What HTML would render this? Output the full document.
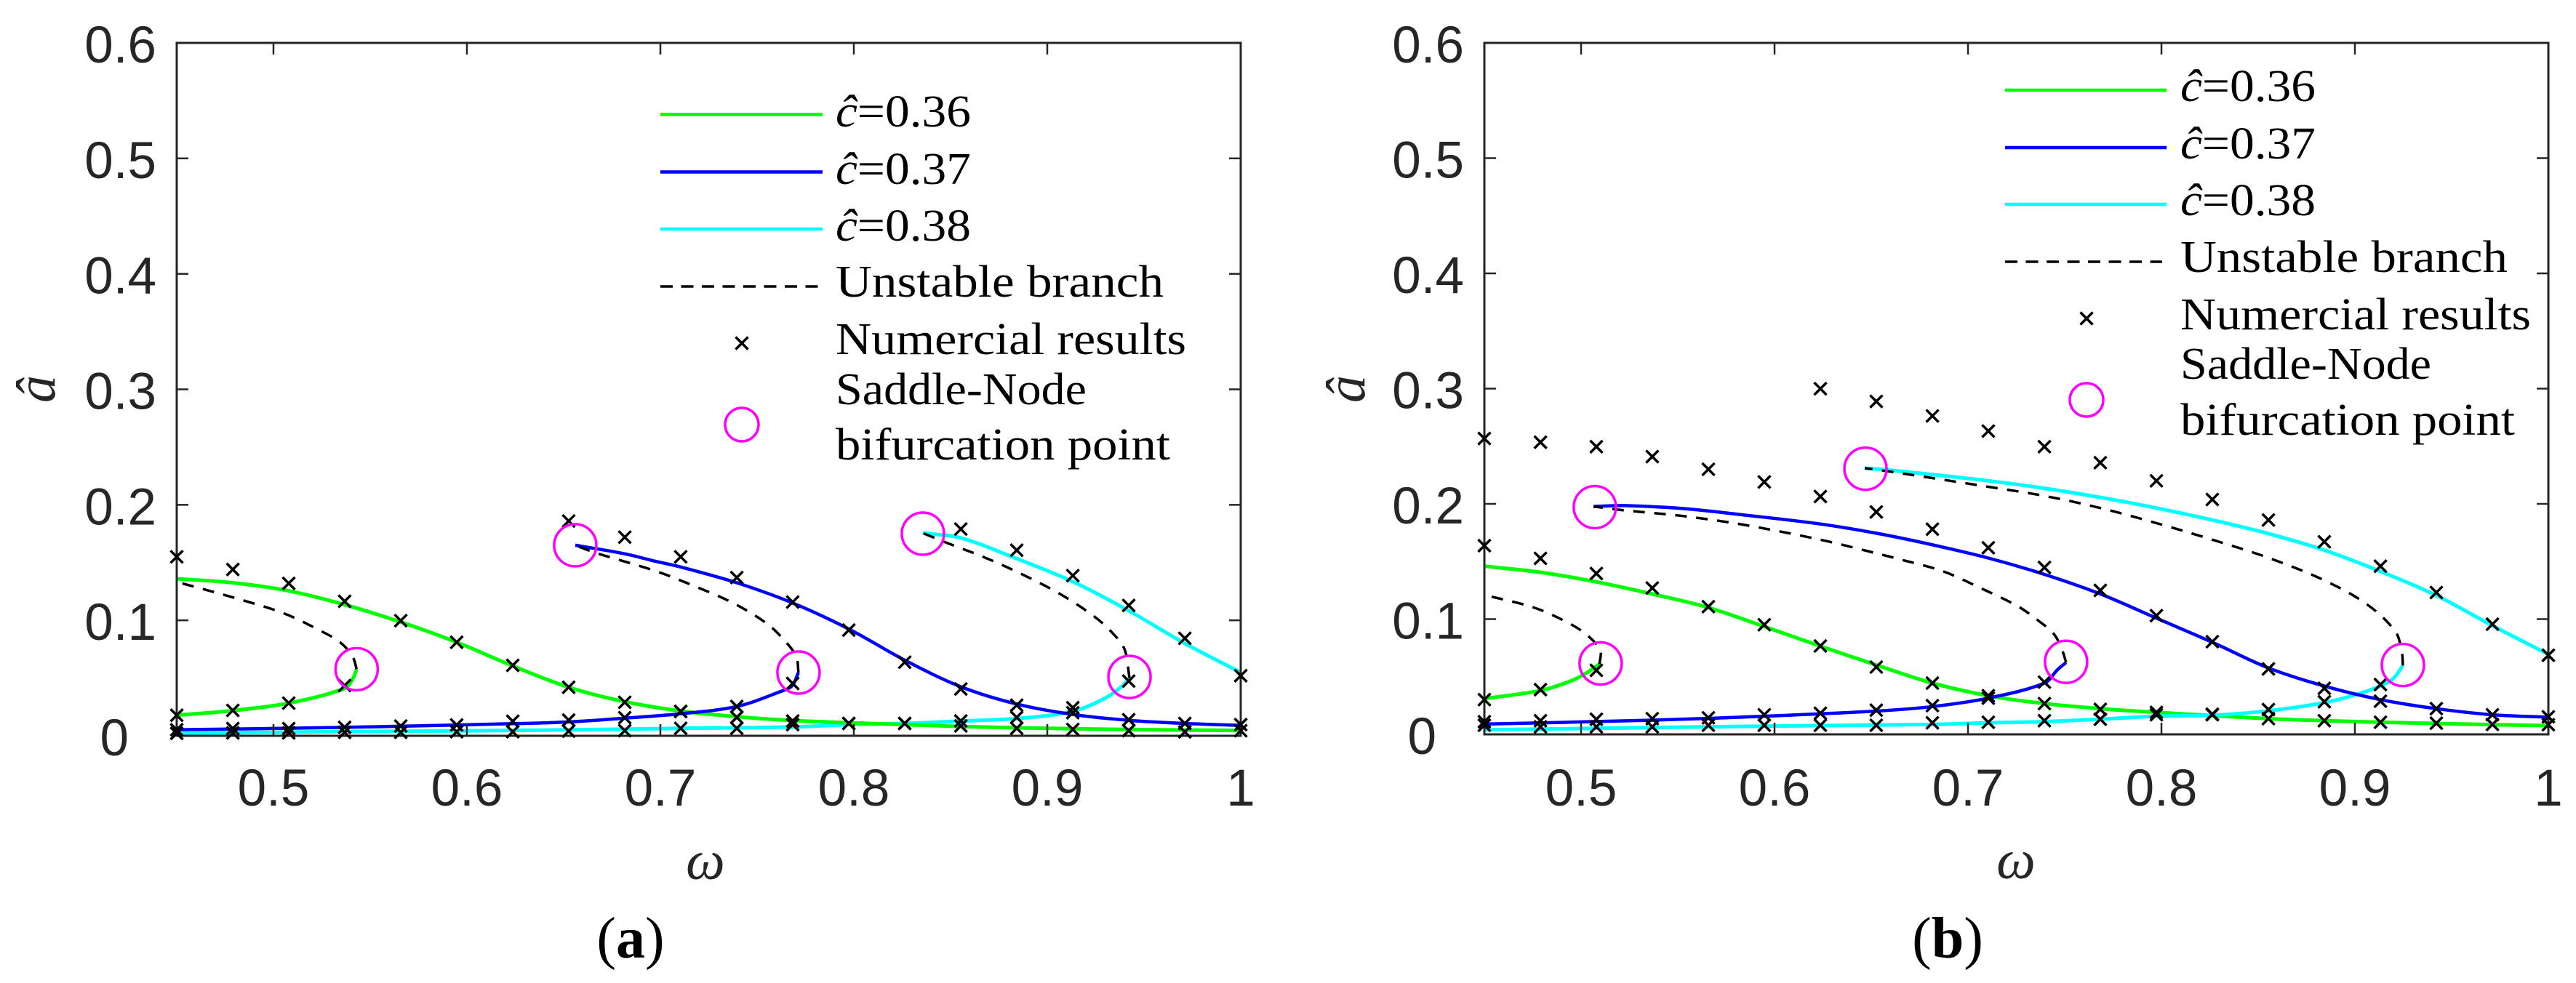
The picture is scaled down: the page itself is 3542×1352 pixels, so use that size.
<!DOCTYPE html>
<html lang="en">
<head>
<meta charset="utf-8">
<title>Amplitude-frequency response curves</title>
<style>
html,body{margin:0;padding:0;background:#fff;}
svg{display:block;}
.tick{font-family:"Liberation Sans",sans-serif;font-size:71px;fill:#262626;}
.math{font-family:"Liberation Serif",serif;font-style:italic;font-size:76px;fill:#262626;}
.leg{font-family:"Liberation Serif",serif;font-size:62px;fill:#000;}
.leg tspan.i{font-style:italic;}
.cap{font-family:"Liberation Serif",serif;font-size:80px;fill:#000;}
.cap tspan{font-weight:bold;}
</style>
</head>
<body>
<svg id="figure" xmlns="http://www.w3.org/2000/svg" width="3542" height="1352" viewBox="0 0 3542 1352">
  <rect x="0" y="0" width="3542" height="1352" fill="#fff"/>

  <g id="panel-a"></g>
  <g id="panel-b"></g>

  <g>
    <line x1="908" x2="1131" y1="157.5" y2="157.5" stroke="#00ff00" stroke-width="4.5"/>
    <text class="leg" x="1149" y="174" textLength="186" lengthAdjust="spacingAndGlyphs"><tspan class="i">ĉ</tspan>=0.36</text>
    <line x1="908" x2="1131" y1="236.5" y2="236.5" stroke="#0000ff" stroke-width="4.5"/>
    <text class="leg" x="1149" y="253" textLength="186" lengthAdjust="spacingAndGlyphs"><tspan class="i">ĉ</tspan>=0.37</text>
    <line x1="908" x2="1131" y1="315" y2="315" stroke="#00ffff" stroke-width="4.5"/>
    <text class="leg" x="1149" y="331" textLength="186" lengthAdjust="spacingAndGlyphs"><tspan class="i">ĉ</tspan>=0.38</text>
    <line x1="908" x2="1129" y1="394" y2="394" stroke="#000" stroke-width="3.5" stroke-dasharray="17 11.5"/>
    <text class="leg" x="1149" y="408" textLength="451" lengthAdjust="spacingAndGlyphs">Unstable branch</text>
    <path d="M1011.5 463.5L1028.5 480.5M1028.5 463.5L1011.5 480.5" stroke="#000" stroke-width="3.5" fill="none"/>
    <text class="leg" x="1149" y="487" textLength="482" lengthAdjust="spacingAndGlyphs">Numercial results</text>
    <circle cx="1020" cy="584" r="23" fill="none" stroke="#ff00ff" stroke-width="3.5"/>
    <text class="leg" x="1149" y="556" textLength="345" lengthAdjust="spacingAndGlyphs">Saddle-Node</text>
    <text class="leg" x="1149" y="632" textLength="460" lengthAdjust="spacingAndGlyphs">bifurcation point</text>
  </g>

  <g>
    <line x1="2757" x2="2979" y1="124" y2="124" stroke="#00ff00" stroke-width="4.5"/>
    <text class="leg" x="2998" y="139" textLength="186" lengthAdjust="spacingAndGlyphs"><tspan class="i">ĉ</tspan>=0.36</text>
    <line x1="2757" x2="2979" y1="203" y2="203" stroke="#0000ff" stroke-width="4.5"/>
    <text class="leg" x="2998" y="218" textLength="186" lengthAdjust="spacingAndGlyphs"><tspan class="i">ĉ</tspan>=0.37</text>
    <line x1="2757" x2="2979" y1="281" y2="281" stroke="#00ffff" stroke-width="4.5"/>
    <text class="leg" x="2998" y="296" textLength="186" lengthAdjust="spacingAndGlyphs"><tspan class="i">ĉ</tspan>=0.38</text>
    <line x1="2757" x2="2973" y1="360" y2="360" stroke="#000" stroke-width="3.5" stroke-dasharray="17 11.5"/>
    <text class="leg" x="2998" y="374" textLength="450" lengthAdjust="spacingAndGlyphs">Unstable branch</text>
    <path d="M2860.5 429.5L2877.5 446.5M2877.5 429.5L2860.5 446.5" stroke="#000" stroke-width="3.5" fill="none"/>
    <text class="leg" x="2998" y="453" textLength="482" lengthAdjust="spacingAndGlyphs">Numercial results</text>
    <circle cx="2869" cy="550" r="23" fill="none" stroke="#ff00ff" stroke-width="3.5"/>
    <text class="leg" x="2998" y="521" textLength="345" lengthAdjust="spacingAndGlyphs">Saddle-Node</text>
    <text class="leg" x="2998" y="598" textLength="460" lengthAdjust="spacingAndGlyphs">bifurcation point</text>
  </g>

  <text class="math" x="970" y="1209" text-anchor="middle">ω</text>
  <text class="math" x="2772" y="1208" text-anchor="middle">ω</text>
  <text class="math" transform="translate(75 535) rotate(-90)" text-anchor="middle">â</text>
  <text class="math" transform="translate(1876 535) rotate(-90)" text-anchor="middle">â</text>
  <text class="cap" x="867" y="1317" text-anchor="middle">(<tspan>a</tspan>)</text>
  <text class="cap" x="2678" y="1317" text-anchor="middle">(<tspan>b</tspan>)</text>
</svg>

<script>
// Axis ticks
const xTicks = [0.5, 0.6, 0.7, 0.8, 0.9, 1];
const xTickLabels = ['0.5', '0.6', '0.7', '0.8', '0.9', '1'];
const yTicks = [0, 0.1, 0.2, 0.3, 0.4, 0.5, 0.6];
const yTickLabels = ['0', '0.1', '0.2', '0.3', '0.4', '0.5', '0.6'];

// Numerical results: common frequency grid
const numOmega = [0.45,0.479,0.5079,0.5368,0.5658,0.5947,0.6237,0.6526,0.6816,0.7105,0.7395,0.7684,0.7974,0.8263,0.8553,0.8842,0.9132,0.9421,0.9711,1];

// Panel (a) numerical results
const aNumGreenUpper = [0.155,0.144,0.132,0.1165,0.0997,0.081,0.061,0.042,0.029,0.0212,0.016,0.0128,0.0107,0.0107,0.0086,0.0065,0.0055,0.0044,0.0034,0.0044];
const aNumGreenLower = [0.0178,0.022,0.0283,0.0435,null,null,null,null,null,null,null,null,null,null,null,null,null,null,null,null];
const aNumBlueUpper = [null,null,null,null,null,null,null,0.186,0.172,0.155,0.137,0.1158,0.0915,0.0637,0.0405,0.0265,0.02,0.0139,0.0107,0.0097];
const aNumBlueLower = [0.0052,0.0063,0.0063,0.0073,0.0084,0.0094,0.0126,0.0136,0.0157,0.021,0.0254,0.0453,null,null,null,null,null,null,null,null];
const aNumCyanUpper = [null,null,null,null,null,null,null,null,null,null,null,null,null,null,0.179,0.1607,0.1387,0.1129,0.0844,0.052];
const aNumCyanLower = [0.0021,0.0025,0.0025,0.003,0.003,0.0035,0.0035,0.004,0.0045,0.0065,0.0065,0.0097,0.0107,0.0107,0.0128,0.016,0.0243,0.0474,null,null];

// Panel (b) numerical results
const bNumGreenUpper = [0.1637,0.1527,0.1396,0.127,0.1108,0.0951,0.0767,0.0584,0.0445,0.0335,0.0267,0.0217,0.0191,0.017,0.0136,0.0118,0.0105,0.0097,0.0086,0.0084];
const bNumGreenLower = [0.0301,0.0388,0.0555,null,null,null,null,null,null,null,null,null,null,null,null,null,null,null,null,null];
const bNumBlueUpper = [0.2567,0.2535,0.2496,0.241,0.23,0.219,0.2064,0.193,0.178,0.1619,0.1448,0.1249,0.103,0.0804,0.0568,0.04,0.0288,0.0223,0.017,0.0152];
const bNumBlueLower = [0.011,0.0118,0.0131,0.0136,0.0144,0.017,0.0183,0.021,0.0249,0.0314,0.0453,null,null,null,null,null,null,null,null,null];
const bNumCyanUpper = [null,null,null,null,null,null,0.2999,0.2889,0.2763,0.2632,0.2496,0.2357,0.22,0.2038,0.186,0.1671,0.1459,0.1231,0.0956,0.0686];
const bNumCyanLower = [0.0079,0.0065,0.0065,0.0065,0.0079,0.0079,0.0079,0.0079,0.01,0.0105,0.0118,0.0131,0.017,0.0175,0.0215,0.0283,0.0432,null,null,null];

// Panel (a) analytical curves
const aGreenUpperW = [0.45,0.479,0.5079,0.5368,0.5658,0.5947,0.6237,0.6526,0.6816,0.7105,0.7395,0.7684,0.7974,0.8263,0.8553,0.8842,0.9132,0.9421,0.9711,1];
const aGreenUpperA = [0.136,0.1325,0.1255,0.1135,0.0985,0.081,0.0605,0.042,0.0295,0.0215,0.0165,0.0132,0.0113,0.0097,0.008,0.0069,0.0061,0.0055,0.005,0.0046];
const aGreenLowerW = [0.45,0.479,0.5079,0.5368,0.541,0.543];
const aGreenLowerA = [0.0178,0.0218,0.0283,0.041,0.0493,0.0577];
const aGreenDashW = [0.543,0.541,0.5346,0.5226,0.5054,0.4816,0.45];
const aGreenDashA = [0.0577,0.0682,0.0808,0.0924,0.106,0.1186,0.1333];

const aBlueUpperW = [0.656,0.6816,0.697,0.7105,0.7395,0.7684,0.7974,0.8263,0.8553,0.8842,0.9132,0.9421,0.9711,1];
const aBlueUpperA = [0.165,0.1576,0.1513,0.1462,0.1325,0.115,0.0925,0.0655,0.0425,0.0275,0.0185,0.0134,0.0107,0.009];
const aBlueLowerW = [0.45,0.5368,0.6237,0.6526,0.6816,0.7105,0.7395,0.7616,0.768,0.7714];
const aBlueLowerA = [0.0052,0.0073,0.0105,0.012,0.0153,0.0191,0.0254,0.038,0.0432,0.0548];
const aBlueDashW = [0.7714,0.7703,0.765,0.7553,0.738,0.7165,0.697,0.666,0.656];
const aBlueDashA = [0.0548,0.0684,0.081,0.0968,0.1146,0.1304,0.143,0.1587,0.165];

const aCyanUpperW = [0.8357,0.8553,0.8842,0.9132,0.9421,0.9711,1];
const aCyanUpperA = [0.1755,0.1713,0.1534,0.1335,0.1083,0.08,0.0548];
const aCyanLowerW = [0.45,0.5368,0.5947,0.6816,0.7105,0.7684,0.7974,0.8263,0.8553,0.8842,0.9132,0.93,0.9388,0.9425];
const aCyanLowerA = [0.0021,0.0036,0.0042,0.0057,0.0065,0.0076,0.0097,0.0107,0.0128,0.0149,0.0212,0.0327,0.0432,0.05];
const aCyanDashW = [0.9425,0.94,0.9335,0.9237,0.9064,0.8868,0.8675,0.8482,0.8357];
const aCyanDashA = [0.05,0.0747,0.0894,0.1041,0.123,0.14,0.1545,0.167,0.1755];

// Panel (a) saddle-node points
const aSaddleW = [0.543,0.7714,0.9425,0.656,0.8357];
const aSaddleA = [0.0577,0.0548,0.051,0.165,0.175];

// Panel (b) analytical curves
const bGreenUpperW = [0.45,0.479,0.5079,0.5368,0.5658,0.5947,0.6237,0.6526,0.6816,0.7105,0.7395,0.7684,0.7974,0.8263,0.8553,0.8842,0.9132,0.9421,0.9711,1];
const bGreenUpperA = [0.1459,0.1406,0.1323,0.1218,0.11,0.0935,0.0765,0.0602,0.0445,0.0335,0.0267,0.0223,0.0191,0.0162,0.0136,0.0118,0.0105,0.0094,0.0084,0.0076];
const bGreenLowerW = [0.45,0.479,0.494,0.5019,0.5095];
const bGreenLowerA = [0.0309,0.038,0.0458,0.0524,0.0608];
const bGreenDashW = [0.5095,0.5098,0.5019,0.4917,0.4756,0.45];
const bGreenDashA = [0.0608,0.0733,0.0877,0.0982,0.11,0.121];

const bBlueUpperW = [0.5064,0.5226,0.553,0.5835,0.6237,0.6526,0.6816,0.7105,0.7395,0.7684,0.7974,0.8263,0.8553,0.8842,0.9132,0.9421,0.9711,1];
const bBlueUpperA = [0.1977,0.1985,0.1959,0.1905,0.1825,0.1745,0.1645,0.153,0.1388,0.1218,0.1008,0.0799,0.0576,0.0419,0.0301,0.0223,0.017,0.0149];
const bBlueLowerW = [0.45,0.5368,0.5947,0.6526,0.6816,0.7105,0.7395,0.7464,0.7507];
const bBlueLowerA = [0.0089,0.0123,0.0157,0.0202,0.0241,0.0314,0.0445,0.0563,0.0623];
const bBlueDashW = [0.7507,0.7489,0.7447,0.7357,0.7256,0.7064,0.6872,0.6647,0.6526,0.6237,0.5835,0.553,0.5226,0.5064];
const bBlueDashA = [0.0623,0.072,0.0864,0.0995,0.1113,0.127,0.1414,0.1519,0.1571,0.1689,0.182,0.1894,0.1943,0.1977];

const bCyanUpperW = [0.6466,0.6601,0.7105,0.7395,0.7684,0.7974,0.8263,0.8553,0.8842,0.9132,0.9421,0.9711,1];
const bCyanUpperA = [0.231,0.2292,0.22,0.2135,0.2056,0.1964,0.186,0.1742,0.1598,0.1414,0.1205,0.0943,0.0694];
const bCyanLowerW = [0.45,0.5079,0.5947,0.6816,0.7105,0.7395,0.7684,0.7974,0.8263,0.8553,0.8842,0.8996,0.9132,0.9199,0.9248];
const bCyanLowerA = [0.0039,0.0052,0.0071,0.0086,0.01,0.011,0.0131,0.0157,0.0165,0.0204,0.0275,0.034,0.0419,0.0485,0.0597];
const bCyanDashW = [0.9248,0.9243,0.921,0.9064,0.8842,0.8553,0.8263,0.7974,0.7684,0.7395,0.7105,0.6601,0.6466];
const bCyanDashA = [0.0597,0.0707,0.089,0.1126,0.1336,0.1532,0.1689,0.1833,0.1964,0.2069,0.2148,0.2279,0.231];

// Panel (b) saddle-node points
const bSaddleW = [0.5101,0.7507,0.9248,0.5071,0.647];
const bSaddleA = [0.0615,0.0629,0.0602,0.1972,0.2305];

const NS = 'http://www.w3.org/2000/svg';
const AXIS = '#262626';
const GREEN = '#00ff00', BLUE = '#0000ff', CYAN = '#00ffff';

function add(parent, tag, attrs, name) {
  const el = document.createElementNS(NS, tag);
  for (const k in attrs) el.setAttribute(k, attrs[k]);
  
  
  parent.appendChild(el);
  return el;
}

function smoothPath(pts) {
  let d = 'M' + pts[0][0].toFixed(1) + ' ' + pts[0][1].toFixed(1);
  const tan = pts.map((p, i) => {
    const a = pts[Math.max(i - 1, 0)], b = pts[Math.min(i + 1, pts.length - 1)];
    const dx = b[0] - a[0], dy = b[1] - a[1], l = Math.hypot(dx, dy) || 1;
    return [dx / l, dy / l];
  });
  for (let i = 0; i < pts.length - 1; i++) {
    const p = pts[i], q = pts[i + 1];
    const s = Math.hypot(q[0] - p[0], q[1] - p[1]) / 3;
    d += 'C' + (p[0] + tan[i][0] * s).toFixed(1) + ' ' + (p[1] + tan[i][1] * s).toFixed(1) + ' ' +
         (q[0] - tan[i + 1][0] * s).toFixed(1) + ' ' + (q[1] - tan[i + 1][1] * s).toFixed(1) + ' ' +
         q[0].toFixed(1) + ' ' + q[1].toFixed(1);
  }
  return d;
}

function drawPanel(cfg) {
  const g = document.getElementById(cfg.id);
  const xOf = w => cfg.left + (w - 0.45) / 0.55 * (cfg.right - cfg.left);
  const yOf = a => cfg.bottom - a / 0.6 * (cfg.bottom - cfg.top);

  // curves
  cfg.curves.forEach(c => {
    const pts = c.w.map((w, i) => [xOf(w), yOf(c.a[i])]);
    const attrs = { d: smoothPath(pts), fill: 'none', stroke: c.color, 'stroke-width': c.width };
    if (c.dash) attrs['stroke-dasharray'] = '16 13';
    add(g, 'path', attrs, c.name);
  });

  // axes box
  add(g, 'rect', { x: cfg.left, y: cfg.top, width: cfg.right - cfg.left, height: cfg.bottom - cfg.top, fill: 'none', stroke: AXIS, 'stroke-width': 3 }, 'axes-box');

  // ticks and labels
  xTicks.forEach((t, i) => {
    const x = xOf(t);
    add(g, 'line', { x1: x, x2: x, y1: cfg.bottom, y2: cfg.bottom - 16, stroke: AXIS, 'stroke-width': 2.5 }, 'x-tick');
    add(g, 'line', { x1: x, x2: x, y1: cfg.top, y2: cfg.top + 16, stroke: AXIS, 'stroke-width': 2.5 }, 'x-tick-top');
    const lab = add(g, 'text', { x: x, y: 1108, 'text-anchor': 'middle', class: 'tick' }, 'x-tick-label');
    lab.textContent = xTickLabels[i];
  });
  yTicks.forEach((t, i) => {
    const y = yOf(t);
    add(g, 'line', { x1: cfg.left, x2: cfg.left + 16, y1: y, y2: y, stroke: AXIS, 'stroke-width': 2.5 }, 'y-tick');
    add(g, 'line', { x1: cfg.right, x2: cfg.right - 16, y1: y, y2: y, stroke: AXIS, 'stroke-width': 2.5 }, 'y-tick-right');
    const isZero = t === 0;
    const lab = add(g, 'text', { x: cfg.left - (isZero ? 66 : 28), y: y + 27, 'text-anchor': 'end', class: 'tick' }, 'y-tick-label');
    lab.textContent = yTickLabels[i];
  });

  // numerical markers
  const s = 8.5;
  cfg.numeric.forEach(series => {
    series.forEach((a, i) => {
      if (a === null) return;
      const x = xOf(numOmega[i]), y = yOf(a);
      add(g, 'path', {
        d: 'M' + (x - s) + ' ' + (y - s) + 'L' + (x + s) + ' ' + (y + s) + 'M' + (x + s) + ' ' + (y - s) + 'L' + (x - s) + ' ' + (y + s),
        stroke: '#000', 'stroke-width': 3.5, fill: 'none'
      }, 'numerical-point');
    });
  });

  // saddle-node circles
  cfg.saddleW.forEach((w, i) => {
    add(g, 'circle', { cx: xOf(w), cy: yOf(cfg.saddleA[i]), r: 29, fill: 'none', stroke: '#ff00ff', 'stroke-width': 3.5 }, 'saddle-node-point');
  });
}

drawPanel({
  id: 'panel-a', left: 243, right: 1706, top: 59, bottom: 1012,
  numeric: [aNumGreenUpper, aNumGreenLower, aNumBlueUpper, aNumBlueLower, aNumCyanUpper, aNumCyanLower],
  saddleW: aSaddleW, saddleA: aSaddleA,
  curves: [
    { w: aCyanLowerW, a: aCyanLowerA, color: CYAN, width: 5, name: 'curve-c038-lower' },
    { w: aGreenUpperW, a: aGreenUpperA, color: GREEN, width: 5, name: 'curve-c036-upper' },
    { w: aGreenLowerW, a: aGreenLowerA, color: GREEN, width: 5, name: 'curve-c036-lower' },
    { w: aBlueUpperW, a: aBlueUpperA, color: BLUE, width: 4.5, name: 'curve-c037-upper' },
    { w: aBlueLowerW, a: aBlueLowerA, color: BLUE, width: 4.5, name: 'curve-c037-lower' },
    { w: aCyanUpperW, a: aCyanUpperA, color: CYAN, width: 5, name: 'curve-c038-upper' },
    { w: aGreenDashW, a: aGreenDashA, color: '#000', width: 3.5, dash: true, name: 'curve-c036-unstable' },
    { w: aBlueDashW, a: aBlueDashA, color: '#000', width: 3.5, dash: true, name: 'curve-c037-unstable' },
    { w: aCyanDashW, a: aCyanDashA, color: '#000', width: 3.5, dash: true, name: 'curve-c038-unstable' }
  ]
});

drawPanel({
  id: 'panel-b', left: 2041, right: 3504, top: 59, bottom: 1010,
  numeric: [bNumGreenUpper, bNumGreenLower, bNumBlueUpper, bNumBlueLower, bNumCyanUpper, bNumCyanLower],
  saddleW: bSaddleW, saddleA: bSaddleA,
  curves: [
    { w: bGreenUpperW, a: bGreenUpperA, color: GREEN, width: 5, name: 'curve-c036-upper' },
    { w: bCyanLowerW, a: bCyanLowerA, color: CYAN, width: 5, name: 'curve-c038-lower' },
    { w: bGreenLowerW, a: bGreenLowerA, color: GREEN, width: 5, name: 'curve-c036-lower' },
    { w: bBlueUpperW, a: bBlueUpperA, color: BLUE, width: 4.5, name: 'curve-c037-upper' },
    { w: bBlueLowerW, a: bBlueLowerA, color: BLUE, width: 4.5, name: 'curve-c037-lower' },
    { w: bCyanUpperW, a: bCyanUpperA, color: CYAN, width: 5, name: 'curve-c038-upper' },
    { w: bGreenDashW, a: bGreenDashA, color: '#000', width: 3.5, dash: true, name: 'curve-c036-unstable' },
    { w: bBlueDashW, a: bBlueDashA, color: '#000', width: 3.5, dash: true, name: 'curve-c037-unstable' },
    { w: bCyanDashW, a: bCyanDashA, color: '#000', width: 3.5, dash: true, name: 'curve-c038-unstable' }
  ]
});
</script>
</body>
</html>
